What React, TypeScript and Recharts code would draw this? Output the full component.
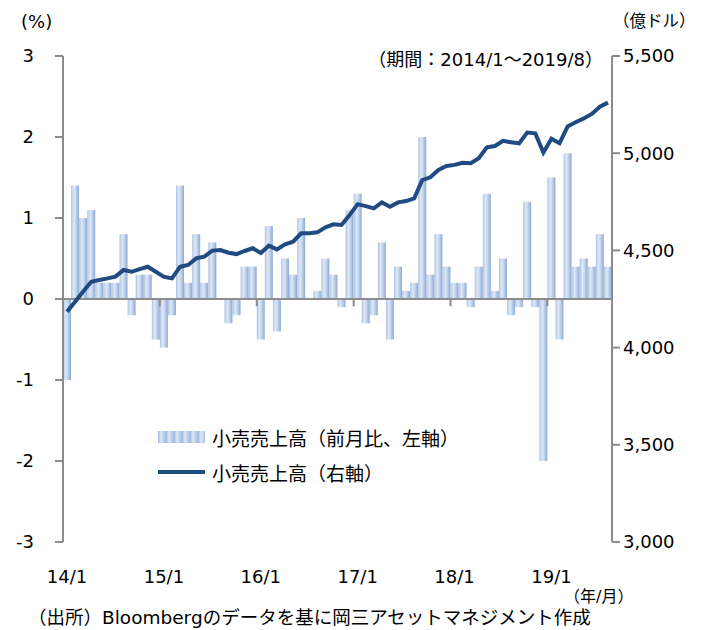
import React from 'react';
import { ComposedChart, Bar, Line, XAxis, YAxis, ReferenceLine } from 'recharts';

const months = [
  '14/1','14/2','14/3','14/4','14/5','14/6','14/7','14/8','14/9','14/10','14/11','14/12',
  '15/1','15/2','15/3','15/4','15/5','15/6','15/7','15/8','15/9','15/10','15/11','15/12',
  '16/1','16/2','16/3','16/4','16/5','16/6','16/7','16/8','16/9','16/10','16/11','16/12',
  '17/1','17/2','17/3','17/4','17/5','17/6','17/7','17/8','17/9','17/10','17/11','17/12',
  '18/1','18/2','18/3','18/4','18/5','18/6','18/7','18/8','18/9','18/10','18/11','18/12',
  '19/1','19/2','19/3','19/4','19/5','19/6','19/7','19/8',
];

const retailMoM = [
  -1.0, 1.4, 1.0, 1.1, 0.2, 0.2, 0.2, 0.8, -0.2, 0.3, 0.3, -0.5,
  -0.6, -0.2, 1.4, 0.2, 0.8, 0.2, 0.7, 0.0, -0.3, -0.2, 0.4, 0.4,
  -0.5, 0.9, -0.4, 0.5, 0.3, 1.0, 0.0, 0.1, 0.5, 0.3, -0.1, 1.1,
  1.3, -0.3, -0.2, 0.7, -0.5, 0.4, 0.1, 0.2, 2.0, 0.3, 0.8, 0.4,
  0.2, 0.2, -0.1, 0.4, 1.3, 0.1, 0.5, -0.2, -0.1, 1.2, -0.1, -2.0,
  1.5, -0.5, 1.8, 0.4, 0.5, 0.4, 0.8, 0.4,
];

const retailLevel = [
  4185, 4236, 4288, 4339, 4348, 4356, 4365, 4399, 4390, 4404, 4416, 4390,
  4364, 4356, 4416, 4425, 4459, 4468, 4499, 4502, 4488, 4481, 4497, 4511,
  4487, 4524, 4505, 4531, 4545, 4588, 4588, 4593, 4619, 4634, 4631, 4682,
  4738, 4728, 4716, 4747, 4725, 4747, 4754, 4768, 4862, 4876, 4914, 4934,
  4940, 4951, 4948, 4974, 5030, 5037, 5064, 5056, 5051, 5106, 5102, 5003,
  5074, 5051, 5137, 5159, 5179, 5202, 5239, 5260,
];

const leftTicks = [-3, -2, -1, 0, 1, 2, 3];
const rightTicks = [3000, 3500, 4000, 4500, 5000, 5500];
const yearStarts = ['15/1', '16/1', '17/1', '18/1', '19/1'];

const barLabel = '小売売上高（前月比、左軸）';
const lineLabel = '小売売上高（右軸）';

const data = months.map((m, i) => ({ month: m, mom: retailMoM[i], level: retailLevel[i] }));

const FONT = '"DejaVu Sans", "Noto Sans CJK JP", sans-serif';
const AXIS = '#8c8c8c';
const LINE = '#1f4a82';

const Txt = ({ left, top, right, size = 16, children }: any) => (
  <div
    style={{
      position: 'absolute', left, top, right, fontSize: size, lineHeight: 1,
      whiteSpace: 'nowrap', fontFamily: FONT, color: '#000',
    }}
  >
    {children}
  </div>
);

const LegendBox = () => (
  <div style={{ position: 'absolute', left: 150, top: 417, fontFamily: FONT, fontSize: 19, color: '#000' }}>
    <div style={{ display: 'flex', alignItems: 'center', height: 24 }}>
      <div
        style={{
          width: 47, height: 12,
          background: 'repeating-linear-gradient(to right, #9fb9df 0px, #dfe8f4 3px, #b8cbe8 6px, #9fb9df 8px)',
        }}
      />
      <span style={{ marginLeft: 7 }}>{barLabel}</span>
    </div>
    <div style={{ display: 'flex', alignItems: 'center', height: 24, marginTop: 11 }}>
      <div style={{ width: 47, height: 4, background: LINE }} />
      <span style={{ marginLeft: 7 }}>{lineLabel}</span>
    </div>
  </div>
);

export default function App() {
  return (
    <div style={{ position: 'relative', width: 691, height: 622, fontFamily: FONT }}>
      <ComposedChart
        width={691}
        height={614}
        data={data}
        margin={{ top: 48, right: 0, bottom: 30, left: 0 }}
        barCategoryGap={0}
        style={{ fontFamily: FONT }}
      >
        <defs>
          <linearGradient id="barGrad" x1="0" y1="0" x2="1" y2="0">
            <stop offset="0%" stopColor="#adc4e5" />
            <stop offset="35%" stopColor="#e0e9f5" />
            <stop offset="60%" stopColor="#c4d5ec" />
            <stop offset="100%" stopColor="#8aa9d5" />
          </linearGradient>
        </defs>
        <XAxis
          dataKey="month"
          interval={11}
          axisLine={false}
          tickLine={false}
          height={50}
          tickMargin={22}
          tick={{ fill: '#000', fontSize: 18 }}
        />
        <YAxis
          yAxisId="left"
          orientation="left"
          width={55}
          domain={[-3, 3]}
          ticks={leftTicks}
          interval={0}
          axisLine={{ stroke: AXIS, strokeWidth: 2 }}
          tickLine={{ stroke: AXIS, strokeWidth: 2 }}
          tickSize={8}
          tickMargin={21}
          tick={{ fill: '#000', fontSize: 18 }}
        />
        <YAxis
          yAxisId="right"
          orientation="right"
          width={87}
          domain={[3000, 5500]}
          ticks={rightTicks}
          interval={0}
          axisLine={{ stroke: AXIS, strokeWidth: 2 }}
          tickLine={{ stroke: AXIS, strokeWidth: 2 }}
          tickSize={8}
          tickMargin={3}
          tick={{ fill: '#000', fontSize: 18 }}
          tickFormatter={(v: number) => v.toLocaleString('en-US')}
        />
        <Bar yAxisId="left" dataKey="mom" name={barLabel} fill="url(#barGrad)" isAnimationActive={false} />
        <ReferenceLine yAxisId="left" y={0} stroke={AXIS} strokeWidth={2} />
        {yearStarts.map((m) => (
          <ReferenceLine
            key={m}
            yAxisId="left"
            position="start"
            segment={[{ x: m, y: 0 }, { x: m, y: -0.09 }]}
            stroke={AXIS}
            strokeWidth={2}
          />
        ))}
        <Line
          yAxisId="right"
          type="linear"
          dataKey="level"
          name={lineLabel}
          stroke={LINE}
          strokeWidth={4}
          dot={false}
          isAnimationActive={false}
        />
      </ComposedChart>
      <LegendBox />
      <Txt left={13} top={5} size={18}>(%)</Txt>
      <Txt left={605} top={6} size={16.5}>（億ドル）</Txt>
      <Txt right={96} top={43} size={18}>（期間：2014/1～2019/8）</Txt>
      <Txt left={556} top={581}>（年/月）</Txt>
      <Txt left={20} top={601} size={18.5}>（出所）Bloombergのデータを基に岡三アセットマネジメント作成</Txt>
    </div>
  );
}
